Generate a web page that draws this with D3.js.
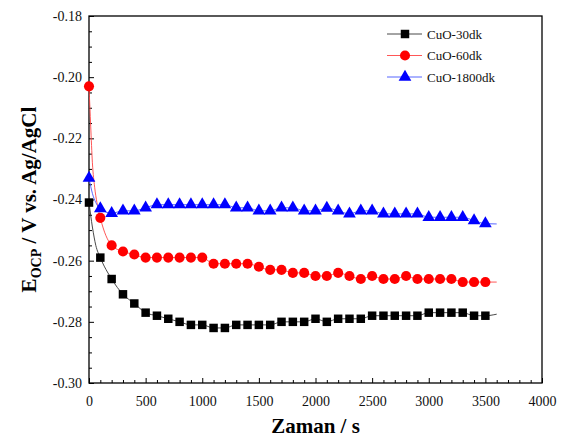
<html><head>
<meta charset="utf-8">
<script src="https://d3js.org/d3.v7.min.js"></script>
<style>
  body { margin: 0; background: #fff; }
  svg text { font-family: "Liberation Serif", "Times New Roman", serif !important; }
</style>
</head>
<body>
<svg id="chart" width="562" height="443"></svg>
<script>
// marker times (s)
const times = [0, 100, 200, 300, 400, 500, 600, 700, 800, 900, 1000, 1100, 1200, 1300, 1400, 1500, 1600, 1700,
               1800, 1900, 2000, 2100, 2200, 2300, 2400, 2500, 2600, 2700, 2800, 2900, 3000, 3100, 3200, 3300, 3400, 3500];

const cuo30 = [-0.241, -0.259, -0.266, -0.271, -0.274, -0.277, -0.278, -0.279, -0.280, -0.281, -0.281, -0.282,
               -0.282, -0.281, -0.281, -0.281, -0.281, -0.280, -0.280, -0.280, -0.279, -0.280, -0.279, -0.279,
               -0.279, -0.278, -0.278, -0.278, -0.278, -0.278, -0.277, -0.277, -0.277, -0.277, -0.278, -0.278];
const cuo60 = [-0.203, -0.246, -0.255, -0.257, -0.258, -0.259, -0.259, -0.259, -0.259, -0.259, -0.259, -0.261,
               -0.261, -0.261, -0.261, -0.262, -0.263, -0.263, -0.264, -0.264, -0.265, -0.265, -0.264, -0.265,
               -0.266, -0.265, -0.266, -0.266, -0.265, -0.266, -0.266, -0.266, -0.266, -0.267, -0.267, -0.267];
const cuo1800 = [-0.233, -0.243, -0.2445, -0.2437, -0.2437, -0.2427, -0.2417, -0.2417, -0.2417, -0.2417, -0.2417, -0.2417,
                 -0.2417, -0.2427, -0.2427, -0.2437, -0.2437, -0.2427, -0.2427, -0.2437, -0.2437, -0.2428, -0.2437, -0.2447,
                 -0.2437, -0.2437, -0.2447, -0.2447, -0.2447, -0.2447, -0.2458, -0.2458, -0.2458, -0.2458, -0.2469, -0.2479];

// extra readings of the continuous curve (early drop and the tail after the last marker)
const early30 = [[0, -0.241], [30, -0.249], [60, -0.255]];
const early60 = [[0, -0.203], [15, -0.216], [30, -0.228], [50, -0.236], [70, -0.241]];
const early1800 = [[0, -0.233], [30, -0.238], [60, -0.241]];
const tailEnd = [[3600, -0.2775], [3600, -0.267], [3600, -0.248]];

const names = ["CuO-30dk", "CuO-60dk", "CuO-1800dk"];
const colors = ["#000000", "#ff0000", "#0000ff"];
const lineColors = ["#333333", "#ff4444", "#4455ff"];

const xTicks = [0, 500, 1000, 1500, 2000, 2500, 3000, 3500, 4000];
const yTicks = [-0.30, -0.28, -0.26, -0.24, -0.22, -0.20, -0.18];

const FONT = "Liberation Serif";
const svg = d3.select("#chart");
const m = {left: 89, right: 542, top: 16, bottom: 383};

const x = d3.scaleLinear().domain([0, 4000]).range([m.left, m.right]);
const y = d3.scaleLinear().domain([-0.30, -0.18]).range([m.bottom, m.top]);

const series = [cuo30, cuo60, cuo1800].map((vals, i) => ({
    name: names[i],
    color: colors[i],
    lineColor: lineColors[i],
    points: times.map((t, j) => [t, vals[j]]),
    line: [...[early30, early60, early1800][i], ...times.slice(1).map((t, j) => [t, vals[j + 1]]), tailEnd[i]]
}));

// axes (ticks inward)
const xAxis = d3.axisBottom(x).tickValues(d3.range(0, 4001, 100)).tickSize(-3).tickFormat("");
svg.append("g").attr("transform", `translate(0,${m.bottom})`).call(xAxis)
   .call(g => g.select(".domain").remove())
   .call(g => g.selectAll(".tick line").filter(d => d % 500 === 0).attr("y2", -5));
svg.append("g").attr("transform", `translate(0,${m.bottom})`)
   .call(d3.axisBottom(x).tickValues(xTicks).tickSize(0).tickPadding(13).tickFormat(d3.format("d")))
   .attr("font-family", FONT)
   .call(g => g.select(".domain").remove())
   .selectAll("text").attr("font-size", 14).attr("fill", "#111");

const yMinor = d3.range(0, 25).map(i => -0.30 + i * 0.005);
svg.append("g").attr("transform", `translate(${m.left},0)`)
   .call(d3.axisLeft(y).tickValues(yMinor).tickSize(-3).tickFormat(""))
   .call(g => g.select(".domain").remove())
   .call(g => g.selectAll(".tick line").filter((d, i) => i % 4 === 0).attr("x2", 5));
svg.append("g").attr("transform", `translate(${m.left},0)`)
   .call(d3.axisLeft(y).tickValues(yTicks).tickSize(0).tickPadding(7).tickFormat(d => d.toFixed(2)))
   .attr("font-family", FONT)
   .call(g => g.select(".domain").remove())
   .selectAll("text").attr("font-size", 14).attr("fill", "#111");

// frame
svg.append("rect").attr("x", m.left).attr("y", m.top)
   .attr("width", m.right - m.left).attr("height", m.bottom - m.top)
   .attr("fill", "none").attr("stroke", "#000").attr("stroke-width", 1.3);

// lines
const line = d3.line().x(d => x(d[0])).y(d => y(d[1])).curve(d3.curveMonotoneX);
svg.selectAll(".curve").data(series).join("path")
   .attr("class", "curve")
   .attr("d", d => line(d.line))
   .attr("fill", "none")
   .attr("stroke", d => d.lineColor)
   .attr("stroke-width", 0.9);

// markers
const symbols = [d3.symbolSquare, d3.symbolCircle, d3.symbolTriangle];
const sizes = [72, 80, 70];
series.forEach((s, i) => {
    svg.append("g").selectAll("path").data(s.points).join("path")
       .attr("transform", d => `translate(${x(d[0])},${y(d[1])})`)
       .attr("d", d3.symbol().type(symbols[i]).size(sizes[i]))
       .attr("fill", s.color);
});

// legend
const legend = svg.append("g").attr("transform", "translate(387,34)");
series.forEach((s, i) => {
    const g = legend.append("g").attr("transform", `translate(0,${i * 21.5})`);
    g.append("line").attr("x1", 0).attr("x2", 35).attr("stroke", s.lineColor).attr("stroke-width", 0.9);
    g.append("path").attr("transform", "translate(18,0)")
     .attr("d", d3.symbol().type(symbols[i]).size(sizes[i])).attr("fill", s.color);
    g.append("text").attr("x", 40).attr("y", 4.5).attr("font-size", 13).attr("font-family", FONT)
     .attr("fill", "#111").text(s.name);
});

// axis titles
svg.append("text").attr("x", (m.left + m.right) / 2).attr("y", 433)
   .attr("text-anchor", "middle").attr("font-size", 21).attr("font-weight", "bold")
   .attr("font-family", FONT).text("Zaman / s");

const yt = svg.append("text")
   .attr("transform", `translate(36,${(m.top + m.bottom) / 2}) rotate(-90)`)
   .attr("text-anchor", "middle").attr("font-size", 21).attr("font-weight", "bold")
   .attr("font-family", FONT);
yt.append("tspan").text("E");
yt.append("tspan").attr("font-size", 14).attr("dy", 5).text("OCP");
yt.append("tspan").attr("dy", -5).text(" / V vs. Ag/AgCl");
</script>
</body>
</html>
